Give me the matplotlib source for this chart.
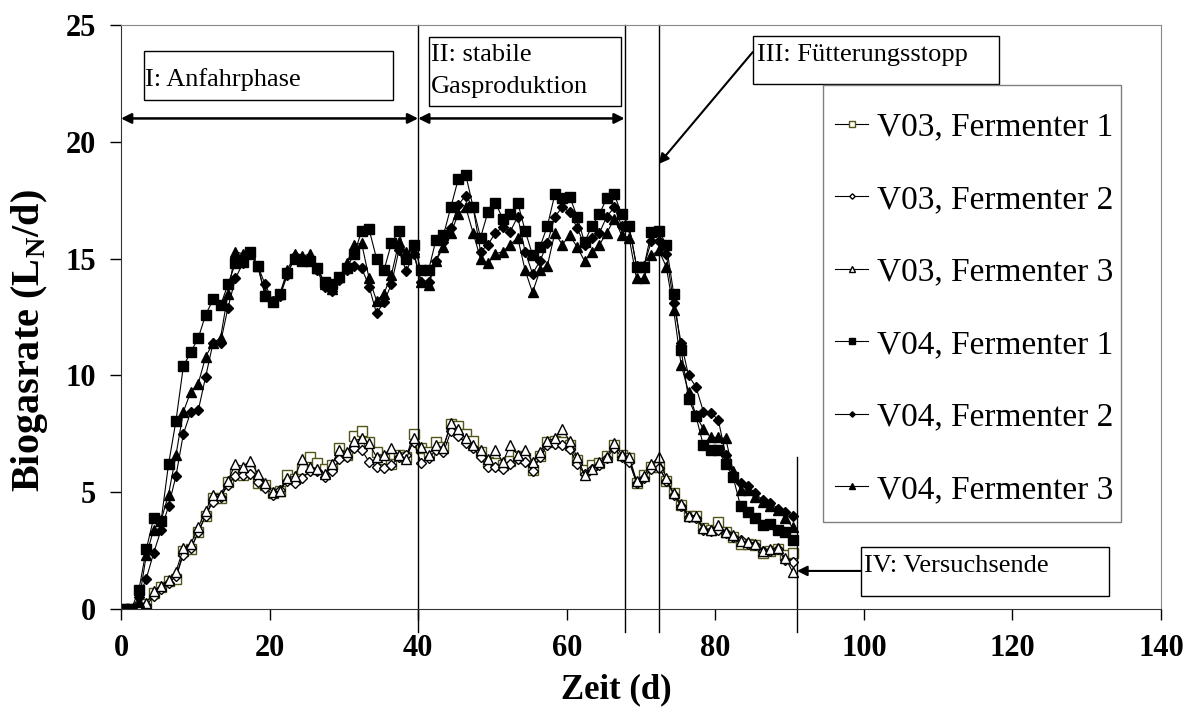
import numpy as np
import matplotlib
matplotlib.use('Agg')
import matplotlib.pyplot as plt
from matplotlib.patches import Rectangle

plt.rcParams['font.family'] = ['Liberation Serif', 'DejaVu Serif']
plt.rcParams['mathtext.fontset'] = 'custom'
plt.rcParams['mathtext.rm'] = 'Liberation Serif'
plt.rcParams['mathtext.bf'] = 'Liberation Serif:bold'

# Zeit (d), ein Messwert pro Tag
tage = np.arange(91) + 0.4

v03_f1 = [0, 0, 0.05, 0.2, 0.7, 0.95, 1.2, 1.3, 2.5, 2.55,
          3.3, 4.0, 4.75, 4.75, 5.45, 5.8, 5.75, 5.9, 5.4, 5.3,
          4.95, 5.05, 5.75, 5.55, 6.0, 6.5, 6.25, 6.0, 6.15, 6.9,
          6.6, 7.4, 7.6, 7.15, 6.7, 6.4, 6.2, 6.6, 6.5, 7.5,
          6.9, 6.7, 7.15, 6.95, 7.9, 7.85, 7.5, 7.2, 6.7, 6.3,
          6.25, 6.15, 6.35, 6.55, 6.45, 5.95, 6.55, 7.15, 7.2, 7.15,
          7.0, 6.38, 5.95, 6.15, 6.25, 6.55, 7.0, 6.6, 6.45, 5.4,
          5.75, 6.1, 6.1, 5.5, 4.95, 4.45, 4.0, 3.98, 3.45, 3.4,
          3.74, 3.3, 3.1, 2.8, 2.8, 2.75, 2.4, 2.5, 2.55, 2.3,
          2.38]
v03_f2 = [0, 0, 0, 0.15, 0.55, 0.85, 1.1, 1.4, 2.3, 2.6,
          3.3, 4.0, 4.6, 4.8, 5.3, 5.7, 5.75, 5.8, 5.45, 5.2,
          4.9, 5.1, 5.5, 5.4, 5.6, 5.9, 5.9, 5.65, 5.9, 6.4,
          6.5, 6.9, 6.8, 6.3, 6.1, 6.05, 6.15, 6.5, 6.6, 7.15,
          6.25, 6.45, 6.8, 6.7, 7.6, 7.4, 7.1, 6.9, 6.5, 6.1,
          6.1, 6.0, 6.2, 6.4, 6.3, 5.9, 6.5, 7.0, 7.05, 7.0,
          6.85, 6.2, 5.8, 6.0, 6.15, 6.45, 6.9, 6.5, 6.3, 5.4,
          5.6, 6.0, 6.05, 5.5, 4.9, 4.4, 3.95, 3.9, 3.4, 3.35,
          3.4, 3.25, 3.1, 2.95, 2.8, 2.75, 2.5, 2.5, 2.55, 2.1,
          2.0]
v03_f3 = [0, 0, 0.05, 0.25, 0.75, 1.0, 1.25, 1.6, 2.6, 2.8,
          3.5, 4.2, 4.9, 4.9, 5.5, 6.2, 6.1, 6.35, 5.8, 5.4,
          5.0, 5.05, 5.6, 5.7, 6.4, 6.1, 6.0, 5.8, 6.2, 6.8,
          6.7, 7.2, 7.3, 7.1, 6.5, 6.6, 6.9, 6.6, 6.4, 7.3,
          6.95, 6.6, 7.0, 6.9, 7.95, 7.7, 7.3, 7.0, 6.8, 6.4,
          6.8, 6.3, 7.0, 6.6, 6.8, 6.3, 6.7, 7.2, 7.3, 7.7,
          7.2, 6.5, 5.75, 6.0, 6.3, 6.5, 7.1, 6.6, 6.5, 5.5,
          5.7, 6.2, 6.5, 5.6, 4.95, 4.5, 4.0, 4.0, 3.45, 3.4,
          3.6, 3.3, 3.15, 2.9, 2.85, 2.8, 2.5, 2.55, 2.6, 2.2,
          1.6]
v04_f1 = [0, 0, 0.8, 2.55, 3.9, 3.78, 6.2, 8.06, 10.4, 11.0,
          11.6, 12.6, 13.25, 13.0, 13.9, 14.8, 14.85, 15.3, 14.7, 13.4,
          13.15, 13.5, 14.4, 15.0, 14.9, 14.9, 14.6, 14.0, 13.9, 14.2,
          14.6, 15.2, 16.2, 16.25, 15.0, 14.5, 15.65, 16.2, 15.0, 15.6,
          14.5, 14.5, 15.8, 16.0, 17.2, 18.4, 18.6, 17.2, 15.9, 17.0,
          17.4, 16.7, 16.9, 17.4, 16.2, 15.15, 15.5, 16.4, 17.75, 17.6,
          17.65, 16.8, 15.7, 16.4, 16.9, 17.6, 17.75, 16.9, 16.4, 14.65,
          14.65, 16.15, 16.2, 15.6, 13.5, 11.1, 9.0, 8.25, 7.0, 6.8,
          6.8, 6.2, 5.65, 4.4, 4.15, 3.9, 3.6, 3.65, 3.4, 3.3,
          2.95]
v04_f2 = [0, 0, 0.5, 1.3, 2.4, 3.4, 4.4, 5.7, 7.5, 8.45,
          8.5, 9.95, 11.4, 11.4, 12.9, 14.15, 14.8, 15.2, 14.7, 13.9,
          13.2, 13.4, 14.3, 15.1, 15.0, 15.0, 14.5, 13.8, 13.6, 14.1,
          14.5, 14.7, 14.6, 13.8, 12.65, 13.15, 13.9, 15.35, 14.45, 15.2,
          14.0, 14.0, 14.9, 15.7, 16.3, 17.3, 17.7, 17.2, 15.3, 15.6,
          16.1, 16.35, 16.15, 16.8, 15.3, 14.35, 14.9, 15.65, 16.8, 17.2,
          17.0, 16.3, 15.6, 15.9, 16.1, 16.8, 17.2, 16.4, 16.35, 14.7,
          14.7, 15.75, 15.75, 15.2, 13.1, 11.4, 10.0, 9.5, 8.45, 8.4,
          8.1, 6.6, 5.75, 5.4, 5.25, 4.95, 4.65, 4.55, 4.3, 4.15,
          4.0]
v04_f3 = [0, 0, 0.3, 2.3, 3.4, 3.8, 4.9, 6.6, 8.45, 9.3,
          9.65, 10.8, 11.4, 11.6, 13.5, 15.3, 15.2, 15.2, 14.7, 13.5,
          13.2, 13.5, 14.5, 15.2, 15.1, 15.2, 14.6, 13.9, 13.7, 14.2,
          14.8, 15.6, 15.65, 14.15, 13.2, 13.5, 14.3, 15.7, 15.3, 15.3,
          14.0, 13.85, 14.9, 15.5, 16.1, 16.9, 17.2, 16.1, 15.0, 14.8,
          15.2, 15.3, 15.6, 15.9, 14.5, 13.55, 14.5, 14.7, 16.1, 15.6,
          16.0, 15.5, 14.9, 15.3, 15.6, 16.1, 16.7, 16.0, 15.9, 14.15,
          14.15, 15.15, 15.35, 14.65, 12.8, 10.45, 9.3, 8.3, 7.7, 7.35,
          7.35, 7.3, 5.9, 5.1, 5.1, 4.8, 4.6, 4.4, 4.25, 3.9,
          3.5]

fig = plt.figure(figsize=(11.9, 7.13), dpi=100)
ax = fig.add_axes([121/1190, 1-609/713, 1040/1190, 584/713])

olive = '#55551a'
serien = [
    (v03_f1, 'V03, Fermenter 1', 's', 'white', olive, 6.5),
    (v03_f2, 'V03, Fermenter 2', 'D', 'white', 'black', 4.6),
    (v03_f3, 'V03, Fermenter 3', '^', 'white', 'black', 6.8),
    (v04_f1, 'V04, Fermenter 1', 's', 'black', 'black', 6.5),
    (v04_f2, 'V04, Fermenter 2', 'D', 'black', 'black', 4.6),
    (v04_f3, 'V04, Fermenter 3', '^', 'black', 'black', 6.8),
]
for werte, name, m, fc, ec, ms in serien:
    ax.plot(tage, werte, color='black', lw=0.8, marker=m, ms=ms,
            mfc=fc, mec=ec, mew=1.0, label=name)

ax.set_xlim(0, 140)
ax.set_ylim(0, 25)
ax.set_xticks(range(0, 141, 20))
ax.set_yticks(range(0, 26, 5))
ax.tick_params(direction='out', length=8, width=1, labelsize=22, pad=10)
for lab in ax.get_xticklabels() + ax.get_yticklabels():
    lab.set_fontweight('bold')
for s in ['left', 'bottom']:
    ax.spines[s].set_color('#333333')
for s in ['top', 'right']:
    ax.spines[s].set_color('#888888')

ax.set_xlabel('Zeit (d)', fontsize=25, fontweight='bold')
ax.set_ylabel(r'Biogasrate (L$_\mathbf{N}$/d)', fontsize=29, fontweight='bold')
ax.xaxis.set_label_coords(0.476, -0.11)
ax.yaxis.set_label_coords(-0.068, 0.459)

# Phasengrenzen
for xv in [40, 67.8, 72.4]:
    ax.plot([xv, xv], [-1, 25], color='black', lw=1, clip_on=False)
ax.plot([91, 91], [-1, 6.5], color='black', lw=1, clip_on=False)

pfeil = dict(arrowstyle='<|-|>', color='black', lw=1.8, mutation_scale=15,
             shrinkA=0, shrinkB=0)
ax.annotate('', xy=(0, 21), xytext=(40, 21), arrowprops=pfeil)
ax.annotate('', xy=(40, 21), xytext=(67.8, 21), arrowprops=pfeil)

einfach = dict(arrowstyle='-|>', color='black', lw=1.5, mutation_scale=15,
               shrinkA=0, shrinkB=0)
ax.annotate('', xy=(72.37, 19.05), xytext=(85.04, 23.84), arrowprops=einfach)
ax.annotate('', xy=(91.0, 1.63), xytext=(99.6, 1.63), arrowprops=einfach)

# Beschriftungskaesten
kaesten = [(3.10, 21.79, 33.56, 2.10), (41.51, 21.53, 25.74, 2.96),
           (85.04, 22.47, 33.15, 2.06), (99.60, 0.56, 33.42, 2.09)]
for x, y, w, h in kaesten:
    ax.add_patch(Rectangle((x, y), w, h, fill=False, ec='black', lw=1,
                           clip_on=False, zorder=5))
tfs = 19
ax.text(3.23, 22.39, 'I: Anfahrphase', fontsize=tfs, va='baseline')
ax.text(41.78, 23.46, 'II: stabile', fontsize=tfs, va='baseline')
ax.text(41.78, 22.09, 'Gasproduktion', fontsize=tfs, va='baseline')
ax.text(85.58, 23.46, 'III: Fütterungsstopp', fontsize=tfs, va='baseline')
ax.text(100.0, 1.58, 'IV: Versuchsende', fontsize=tfs, va='baseline')

# Legende mit eigenem Rahmen
ax.add_patch(Rectangle((0.675, 0.149), 0.2865, 0.748, transform=ax.transAxes,
                       fill=False, ec='#808080', lw=1, zorder=6))
leg = ax.legend(loc='upper left', bbox_to_anchor=(0.6865, 0.851), fontsize=24,
                frameon=False, handlelength=1.0, handletextpad=0.27,
                labelspacing=1.26, borderpad=0, markerscale=0.6,
                borderaxespad=0)

fig.savefig('out.png', dpi=100)
